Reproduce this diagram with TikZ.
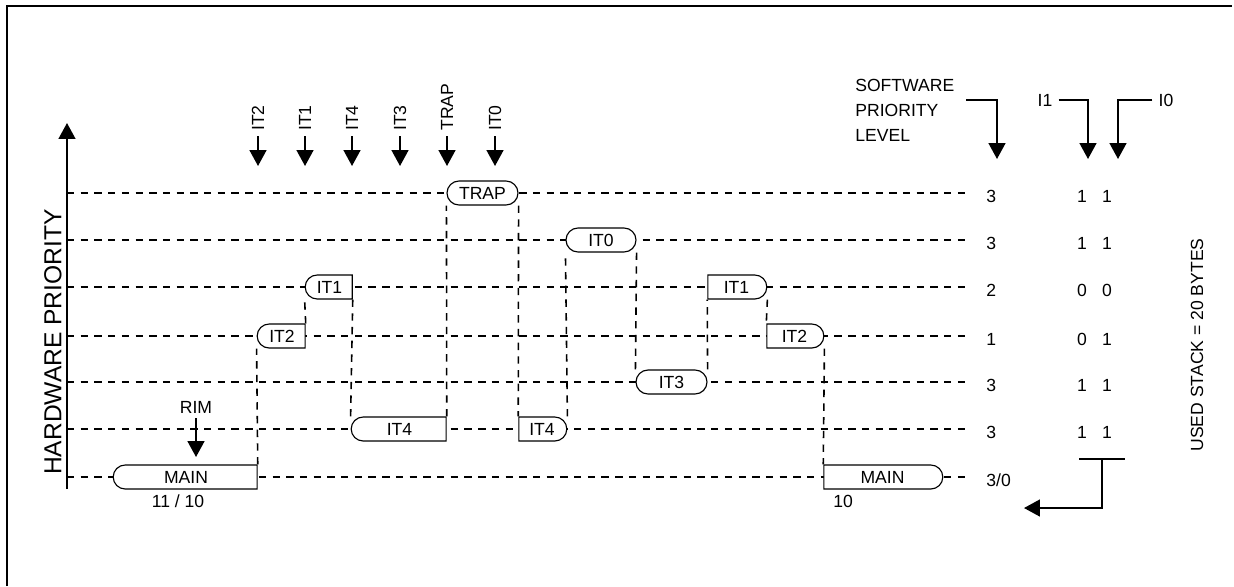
\documentclass[tikz,border=0pt]{standalone}
\usepackage{fontspec}
\setmainfont{Liberation Sans}
\usetikzlibrary{arrows.meta,shapes.misc}
\newcommand{\lblfont}{\fontsize{10}{12}\selectfont}

\begin{document}
\begin{tikzpicture}[x=0.02cm, y=-0.02cm,
		task/.style={rounded rectangle, draw, fill=white, line width=0.65pt,
				minimum height=0.48cm, inner sep=0pt, font=\lblfont},
		taskL/.style={task, rounded rectangle east arc=none},
		taskR/.style={task, rounded rectangle west arc=none},
		lvl/.style={line width=0.9pt, dash pattern=on 4.2pt off 3.6pt},
		drop/.style={lvl},
		evt/.style={-{Triangle[width=9.5pt,length=9pt]}, line width=1.1pt},
		evlbl/.style={rotate=90, anchor=west, inner sep=0pt, font=\lblfont},
		val/.style={anchor=west, inner sep=0pt, font=\lblfont},
		bit/.style={inner sep=0pt, font=\lblfont},
		]

		% ---- Frame ----
		\useasboundingbox (0,0) rectangle (1234,586);
		\draw[line width=1.1pt] (7,586) -- (7,6) -- (1232,6);

		% ---- Hardware priority axis ----
		\coordinate (axb) at (67,489);
		\coordinate (axt) at (67,123);
		\draw[evt] (axb) -- (axt);
		\node[rotate=90, font=\fontsize{14}{16}\selectfont] (hwp) at (53,342) {HARDWARE PRIORITY};

		% ---- Software priority values ----
		\node[val] (sp1) at (986,196) {3};
		\node[val] (sp2) at (986,243) {3};
		\node[val] (sp3) at (986,290) {2};
		\node[val] (sp4) at (986,339) {1};
		\node[val] (sp5) at (986,385) {3};
		\node[val] (sp6) at (986,432) {3};
		\node[val] (sp7) at (986,480) {3/0};

		% ---- Priority levels ----
		\coordinate (L1) at (67,193);
		\coordinate (L2) at (67,240);
		\coordinate (L3) at (67,287);
		\coordinate (L4) at (67,336);
		\coordinate (L5) at (67,382);
		\coordinate (L6) at (67,429);
		\coordinate (L7) at (67,477);
		\draw[lvl, shorten >=0.36cm] (L1) -- (L1 -| sp1.west);
		\draw[lvl, shorten >=0.36cm] (L2) -- (L2 -| sp2.west);
		\draw[lvl, shorten >=0.36cm] (L3) -- (L3 -| sp3.west);
		\draw[lvl, shorten >=0.36cm] (L4) -- (L4 -| sp4.west);
		\draw[lvl, shorten >=0.36cm] (L5) -- (L5 -| sp5.west);
		\draw[lvl, shorten >=0.36cm] (L6) -- (L6 -| sp6.west);
		\draw[lvl, shorten >=0.36cm] (L7) -- (L7 -| sp7.west);

		% ---- Running code ----
		\node[taskL, minimum width=2.88cm] (main1) at (186,477) {MAIN};
		\node[taskL, minimum width=0.96cm] (it2a) at (282,336) {IT2};
		\node[taskL, minimum width=0.94cm] (it1a) at (329.5,287) {IT1};
		\node[taskL, minimum width=1.90cm] (it4a) at (399.5,429) {IT4};
		\node[task, minimum width=1.42cm] (trap) at (482.5,193) {TRAP};
		\node[taskR, minimum width=0.96cm] (it4b) at (542,429) {IT4};
		\node[task, minimum width=1.40cm] (it0) at (601,240) {IT0};
		\node[task, minimum width=1.42cm] (it3) at (671.5,382) {IT3};
		\node[taskR, minimum width=1.18cm] (it1b) at (736.5,287) {IT1};
		\node[taskR, minimum width=1.14cm] (it2b) at (794.5,336) {IT2};
		\node[taskR, minimum width=2.38cm] (main2) at (882.5,477) {MAIN};

		% ---- Switches ----
		\draw[drop] (main1.north east) -- (it2a.west |- it2a.south);
		\draw[drop] (it2a.north east) -- (it1a.west |- it1a.south);
		\draw[drop] (it1a.south east) -- (it4a.west |- it4a.north);
		\draw[drop] (it4a.north east) -- (trap.west |- trap.south);
		\draw[drop] (trap.east |- trap.south) -- (it4b.north west);
		\draw[drop] (it4b.east |- it4b.north) -- (it0.west |- it0.south);
		\draw[drop] (it0.east |- it0.south) -- (it3.west |- it3.north);
		\draw[drop] (it3.east |- it3.north) -- (it1b.south west);
		\draw[drop] (it1b.east |- it1b.south) -- (it2b.north west);
		\draw[drop] (it2b.east |- it2b.south) -- (main2.north west);

		% ---- Interrupt requests ----
		\coordinate (evtip) at (0,166);
		\node[evlbl] (ev2) at (258,131) {IT2};
		\node[evlbl] (ev1) at (305,131) {IT1};
		\node[evlbl] (ev4) at (352,131) {IT4};
		\node[evlbl] (ev3) at (400,131) {IT3};
		\node[evlbl] (evt) at (447,131) {TRAP};
		\node[evlbl] (ev0) at (495,131) {IT0};
		\draw[evt, shorten <=0.1cm] (ev2.west) -- (ev2.west |- evtip);
		\draw[evt, shorten <=0.1cm] (ev1.west) -- (ev1.west |- evtip);
		\draw[evt, shorten <=0.1cm] (ev4.west) -- (ev4.west |- evtip);
		\draw[evt, shorten <=0.1cm] (ev3.west) -- (ev3.west |- evtip);
		\draw[evt, shorten <=0.1cm] (evt.west) -- (evt.west |- evtip);
		\draw[evt, shorten <=0.1cm] (ev0.west) -- (ev0.west |- evtip);

		% ---- RIM ----
		\node[font=\lblfont, inner sep=0pt] (rim) at (196,407) {RIM};
		\coordinate (rimtip) at (196,457);
		\draw[evt, shorten <=0.1cm] (rim.south) -- (rimtip);

		% ---- Stack values ----
		\node[font=\lblfont, inner sep=0pt] (st1) at (178,501) {11 / 10};
		\node[val] (st2) at (833,501) {10};

		% ---- Right columns ----
		\node[anchor=north west, align=left, inner sep=0pt,
			font=\fontsize{10}{14.2}\selectfont] (hdr) at (855,79)
		{SOFTWARE\\PRIORITY\\LEVEL};
		\node[font=\lblfont] (i1) at (1045,100) {I1};
		\node[font=\lblfont] (i0) at (1166,100) {I0};
		\coordinate (sptip) at (0,159);
		\coordinate (swa) at (966,100);
		\coordinate (swb) at (997,100);
		\coordinate (i1k) at (1088,100);
		\coordinate (i0k) at (1118,100);
		\draw[evt] (swa) -- (swb) -- (swb |- sptip);
		\draw[evt] (i1.east) -- (i1k) -- (i1k |- sptip);
		\draw[evt] (i0.west) -- (i0k) -- (i0k |- sptip);

		\node[bit] (a1) at (1082,196) {1}; \node[bit] (b1) at (1107,196) {1};
		\node[bit] (a2) at (1082,243) {1}; \node[bit] (b2) at (1107,243) {1};
		\node[bit] (a3) at (1082,290) {0}; \node[bit] (b3) at (1107,290) {0};
		\node[bit] (a4) at (1082,339) {0}; \node[bit] (b4) at (1107,339) {1};
		\node[bit] (a5) at (1082,385) {1}; \node[bit] (b5) at (1107,385) {1};
		\node[bit] (a6) at (1082,432) {1}; \node[bit] (b6) at (1107,432) {1};

		\node[rotate=90, font=\lblfont] (stk) at (1197,345) {USED STACK = 20 BYTES};

		% ---- Stack return ----
		\coordinate (bl) at (1079,459);
		\coordinate (br) at (1125,459);
		\coordinate (bm) at (1102,459);
		\coordinate (bd) at (1102,508);
		\coordinate (btip) at (1024,508);
		\draw[line width=1.1pt] (bl) -- (br);
		\draw[evt] (bm) -- (bd) -- (btip);

	\end{tikzpicture}
\end{document}
